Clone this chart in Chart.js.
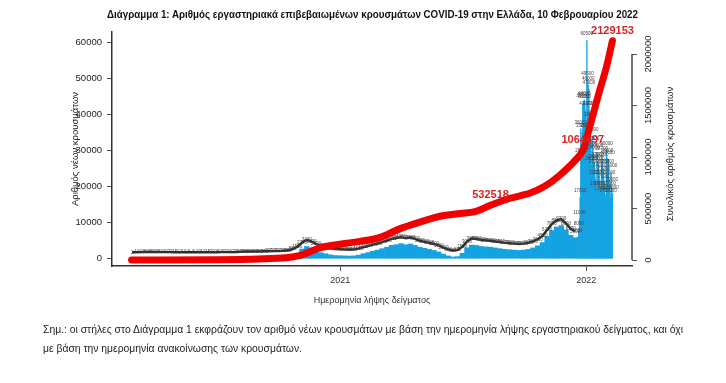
<!DOCTYPE html>
<html lang="el">
<head>
<meta charset="utf-8">
<title>Διάγραμμα 1</title>
<script src="https://cdn.jsdelivr.net/npm/chart.js@4.4.1/dist/chart.umd.min.js"></script>
<style>
  html, body { margin: 0; padding: 0; background: #fff; }
  body { width: 726px; height: 383px; position: relative; overflow: hidden;
         font-family: "Liberation Sans", Arial, sans-serif; color: #222; }
  #chart { position: absolute; left: 0; top: 0; }
  .fit { position: absolute; white-space: nowrap; transform-origin: 0 50%; line-height: 12px; }
  #title { top: 8px; left: 107px; font-weight: bold; font-size: 10.5px; color: #111; }
  #note1 { top: 323px; left: 43px; font-size: 10.5px; }
  #note2 { top: 342px; left: 43px; font-size: 10.5px; }
</style>
</head>
<body>
<canvas id="chart" width="726" height="383"></canvas>
<div id="title" class="fit">Διάγραμμα 1: Αριθμός εργαστηριακά επιβεβαιωμένων κρουσμάτων COVID-19 στην Ελλάδα, 10 Φεβρουαρίου 2022</div>
<div id="note1" class="fit">Σημ.: οι στήλες στο Διάγραμμα 1 εκφράζουν τον αριθμό νέων κρουσμάτων με βάση την ημερομηνία λήψης εργαστηριακού δείγματος, και όχι</div>
<div id="note2" class="fit">με βάση την ημερομηνία ανακοίνωσης των κρουσμάτων.</div>
<script>
// weekly new cases (week starting firstWeek), then daily cases from firstDay
const firstWeek = '2020-02-24';
const weeklyCases = [
  2, 10, 40, 80, 85, 70, 50, 40, 30, 15,
  12, 10, 8, 8, 10, 12, 15, 20, 25, 30,
  30, 40, 70, 130, 200, 230, 250, 250, 270, 300,
  330, 330, 380, 550, 850, 1500, 2700, 3400, 3000, 2300,
  1700, 1400, 1100, 900, 850,
  800, 750, 800, 1000, 1400, 1700, 2100, 2400, 2800, 3200,
  3700, 3900, 4200, 3900, 4100, 3700, 3200, 2900, 2600, 2300,
  1900, 1300, 800, 500, 600, 1500, 3000, 3800, 3700, 3400,
  3300, 3200, 3000, 2800, 2600, 2500, 2400, 2300, 2400, 2600,
  3000, 3600, 4500, 6200, 7800, 8800, 9200, 8000, 6500, 5800
];
const firstDay = '2021-12-20';
const dailyCases = [
  6000, 8000, 11000, 17000, 36000, 28000, 35000, 43000, 43500, 44000, 43000, 41000,
  35000, 60500, 49500, 48000, 47000, 41000, 38000, 30000, 26000, 34000,
  31500, 29000, 26500, 25000, 22000, 19000, 29500, 27000, 26000, 24000,
  22000, 19000, 17500, 28700, 27000, 25000, 23000, 21000, 18000, 17000, 30000,
  28000, 25000, 27600, 22000, 19000, 17000, 24000, 20000, 18000
];

// cumulative cases (right axis)
const cumDates = ['2020-02-26', '2020-07-01', '2020-09-01', '2020-10-12', '2020-11-01', '2020-12-02',
  '2021-01-08', '2021-03-01', '2021-03-31', '2021-04-30', '2021-05-29', '2021-06-28', '2021-07-20',
  '2021-08-12', '2021-09-10', '2021-10-10', '2021-11-01', '2021-11-23', '2021-12-16', '2021-12-27',
  '2022-01-07', '2022-01-19', '2022-02-01', '2022-02-09'];
const cumCases = [0, 3500, 10500, 22000, 42000, 118000,
  160000, 220000, 305000, 370000, 425000, 452000, 470000,
  532518, 600000, 650000, 718000, 825000, 970000, 1064697,
  1310000, 1600000, 1900000, 2129153];

const markDates = ['2021-08-12', '2021-12-27', '2022-02-09'];
const markValues = [532518, 1064697, 2129153];

const yearDates = ['2021-01-01', '2022-01-01'];
const yearLabels = ['2021', '2022'];
const leftTicks = [0, 10000, 20000, 30000, 40000, 50000, 60000];
const rightTicks = [0, 500000, 1000000, 1500000, 2000000];

const base = Date.parse('2021-01-01');
const dayOf = s => (Date.parse(s) - base) / 864e5;

const barPoints = weeklyCases.map((v, i) => ({ x: dayOf(firstWeek) + 7 * i + 3, y: v }))
  .concat(dailyCases.map((v, i) => ({ x: dayOf(firstDay) + i, y: v })));
const cumPoints = cumCases.map((v, i) => ({ x: dayOf(cumDates[i]), y: v }));

const FONT = '"Liberation Sans", Arial, sans-serif';
Chart.defaults.font.family = FONT;

const annotate = {
  id: 'annotate',
  afterDatasetDraw(chart, args) {
    if (args.index !== 0) return;
    const ctx = chart.ctx, bars = args.meta.data;
    ctx.save();
    // the value labels above the weekly bars merge into a dark band
    ctx.strokeStyle = '#262626';
    ctx.lineWidth = 2.4;
    ctx.lineJoin = 'round';
    ctx.beginPath();
    for (let i = 0; i < weeklyCases.length; i++) {
      const px = bars[i].x, py = bars[i].y - 6.5;
      if (i === 0) ctx.moveTo(px, py); else ctx.lineTo(px, py);
    }
    ctx.stroke();
    ctx.font = '4.5px ' + FONT;
    ctx.fillStyle = '#444';
    ctx.textAlign = 'center';
    ctx.textBaseline = 'middle';
    bars.forEach((bar, i) => {
      ctx.fillText(String(barPoints[i].y), bar.x, bar.y - 6.5);
    });
    ctx.restore();
  },
  afterDatasetsDraw(chart) {
    const ctx = chart.ctx, x = chart.scales.x, y2 = chart.scales.y2;
    ctx.save();
    ctx.font = 'bold 11px ' + FONT;
    ctx.fillStyle = '#d92323';
    ctx.textAlign = 'center';
    ctx.textBaseline = 'middle';
    markDates.forEach((d, i) => {
      ctx.fillText(String(markValues[i]), x.getPixelForValue(dayOf(d)), y2.getPixelForValue(markValues[i]) - 10);
    });
    ctx.restore();
  },
  afterDraw(chart) {
    const ctx = chart.ctx, y2 = chart.scales.y2, area = chart.chartArea;
    ctx.save();
    // right axis line between first and last tick
    ctx.strokeStyle = '#444';
    ctx.lineWidth = 1.5;
    ctx.beginPath();
    ctx.moveTo(y2.left, y2.getPixelForValue(rightTicks[0]));
    ctx.lineTo(y2.left, y2.getPixelForValue(rightTicks[rightTicks.length - 1]));
    ctx.stroke();
    ctx.fillStyle = '#222';
    ctx.font = '9.5px ' + FONT;
    ctx.textAlign = 'center';
    ctx.textBaseline = 'middle';
    rightTicks.forEach(v => {
      ctx.save();
      ctx.translate(y2.left + 16, y2.getPixelForValue(v));
      ctx.rotate(-Math.PI / 2);
      ctx.fillText(String(v), 0, 0);
      ctx.restore();
    });
    // axis titles
    const mid = (area.top + area.bottom) / 2;
    ctx.save();
    ctx.translate(75, mid);
    ctx.rotate(-Math.PI / 2);
    ctx.fillText('Αριθμός νέων κρουσμάτων', 0, 0);
    ctx.restore();
    ctx.save();
    ctx.translate(670, mid + 5);
    ctx.rotate(-Math.PI / 2);
    ctx.fillText('Συνολικός αριθμός κρουσμάτων', 0, 0);
    ctx.restore();
    ctx.restore();
  }
};

new Chart(document.getElementById('chart'), {
  type: 'bar',
  data: {
    datasets: [
      {
        type: 'bar', data: barPoints, yAxisID: 'y', order: 2,
        backgroundColor: '#14a3e2', borderWidth: 0,
        barPercentage: 1, categoryPercentage: 1, barThickness: 'flex'
      },
      {
        type: 'line', data: cumPoints, yAxisID: 'y2', order: 1,
        borderColor: '#f20000', borderWidth: 7, pointRadius: 0, fill: false,
        borderCapStyle: 'round', borderJoinStyle: 'round', cubicInterpolationMode: 'monotone'
      }
    ]
  },
  options: {
    responsive: false,
    animation: false,
    layout: { padding: { top: 32, bottom: 72, left: 0, right: 0 } },
    plugins: { legend: { display: false }, tooltip: { enabled: false } },
    scales: {
      x: {
        type: 'linear',
        offset: false,
        min: dayOf('2020-01-28'), max: dayOf('2022-03-10'),
        afterBuildTicks: s => { s.ticks = yearDates.map(d => ({ value: dayOf(d) })); },
        ticks: { callback: (v, i) => yearLabels[i], font: { size: 9 }, color: '#333', padding: 4, maxRotation: 0, autoSkip: false },
        grid: { offset: false, drawOnChartArea: false, tickLength: 5, color: '#555' },
        border: { display: true, color: '#333', width: 1.5 },
        title: { display: true, text: 'Ημερομηνία λήψης δείγματος', font: { size: 9 }, color: '#333', padding: { top: 0, bottom: 5 } },
        afterFit: s => { s.height = 45; }
      },
      y: {
        position: 'left',
        min: -2000, max: 62800,
        afterBuildTicks: s => { s.ticks = leftTicks.map(v => ({ value: v })); },
        ticks: { callback: v => String(v), font: { size: 9.5 }, color: '#222', padding: 5 },
        grid: { drawOnChartArea: false, tickLength: 5, color: '#555' },
        border: { display: true, color: '#333', width: 1.5 },
        afterFit: s => { s.width = 112; }
      },
      y2: {
        position: 'right',
        min: -58000, max: 2214000,
        afterBuildTicks: s => { s.ticks = rightTicks.map(v => ({ value: v })); },
        ticks: { display: false },
        grid: { drawOnChartArea: false, tickLength: 5, color: '#555' },
        border: { display: false },
        afterFit: s => { s.width = 94; }
      }
    }
  },
  plugins: [annotate]
});

// squeeze the html texts to the widths used in the reference
function fit(el, w) {
  const r = w / el.getBoundingClientRect().width;
  el.style.transform = 'scaleX(' + r + ')';
  return r;
}
fit(document.getElementById('title'), 531);
const r = fit(document.getElementById('note1'), 640);
document.getElementById('note2').style.transform = 'scaleX(' + r + ')';
</script>
</body>
</html>
